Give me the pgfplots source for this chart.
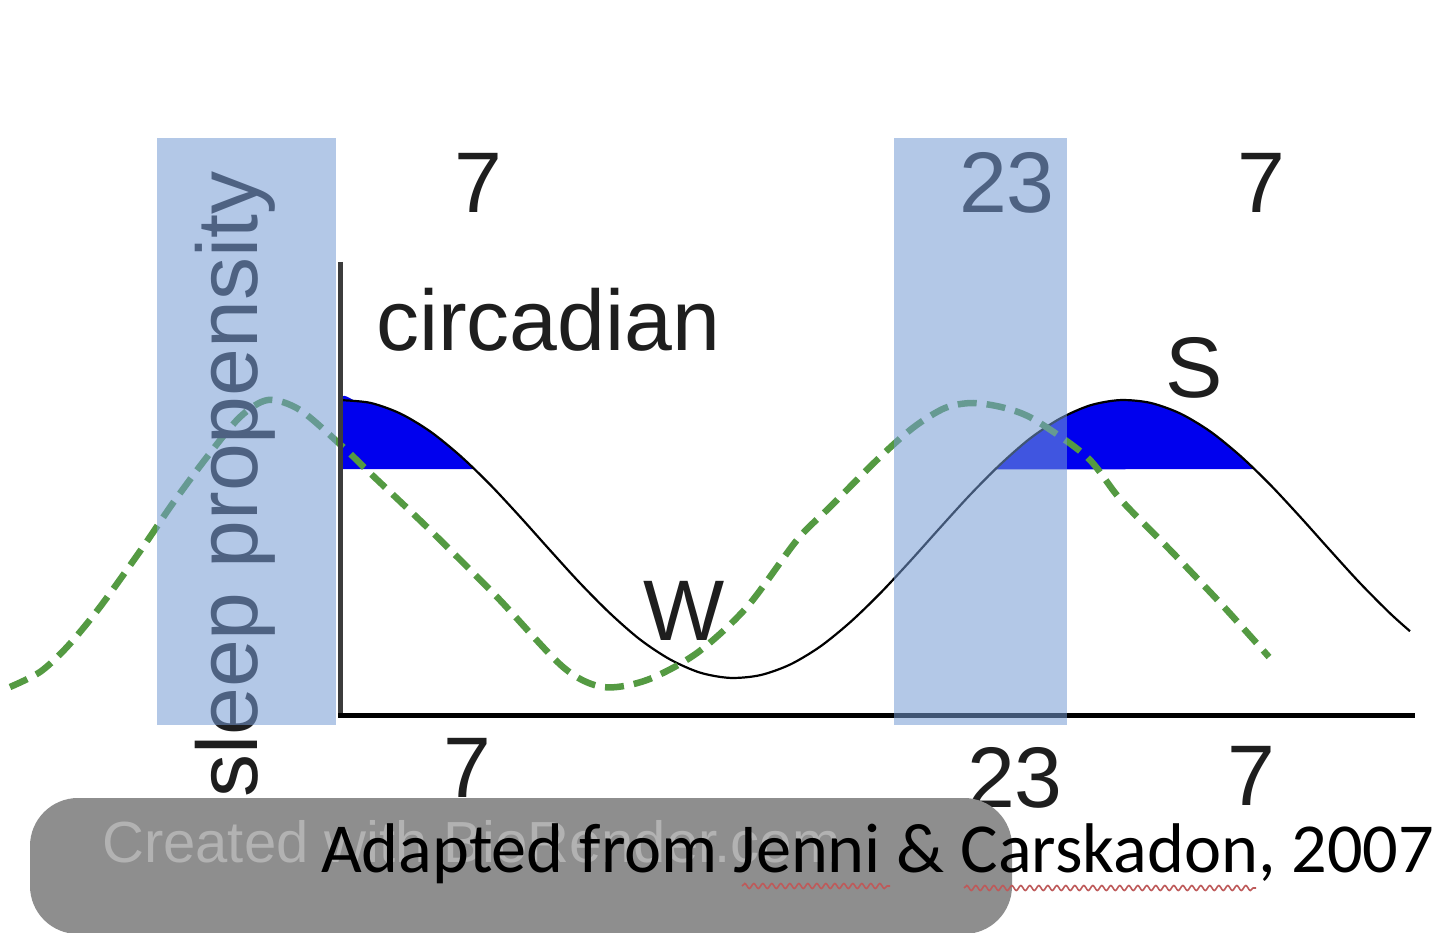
\documentclass[border=0pt]{standalone}
\usepackage{fontspec}
\setmainfont{Liberation Sans}
\newfontfamily\carlito{Carlito}
\usepackage{pgfplots}
\pgfplotsset{compat=1.18}
\usetikzlibrary{decorations.pathmorphing}
\definecolor{rectblue}{RGB}{118,155,213}
\definecolor{fillblue}{RGB}{0,0,238}
\definecolor{dgreen}{RGB}{84,154,66}
\definecolor{barGray}{RGB}{142,142,142}
\definecolor{faint}{RGB}{178,178,178}
\definecolor{txt}{RGB}{30,30,30}
\definecolor{squig}{RGB}{190,90,90}
\newcommand\lab{\fontsize{86bp}{90bp}\selectfont}
\begin{document}
\begin{tikzpicture}
\begin{axis}[
  scale only axis, width=1440bp, height=933bp,
  xmin=0, xmax=1440, ymin=0, ymax=933, y dir=reverse,
  hide axis, clip=true,
]
% background
\addplot[draw=none, fill=white] coordinates {(0,0)(1440,0)(1440,933)(0,933)} -- cycle;
% blue areas (S above threshold)
\addplot[draw=none, fill=fillblue, smooth] coordinates {
 (340,469)(340,400.1)(355,400.4)(370,402.8)(385,407.2)(400,413.4)(415,421.5)(430,431.3)(445,442.7)(460,455.6)(467,461.8)(474,469)} -- cycle;
\addplot[draw=none, fill=fillblue, smooth] coordinates {
 (995,469.5)(1010,456.1)(1030,438.5)(1045,427.6)(1060,418.6)(1075,411.0)(1090,405.4)(1105,401.8)(1120,400.1)(1135,400.4)(1150,402.8)(1165,407.2)(1180,413.4)(1195,421.5)(1210,431.3)(1225,442.7)(1240,455.6)(1254,469)} -- cycle;
% sleep pressure curve
\addplot[black, line width=2.2bp, smooth] coordinates {
 (340,400.1)(370,402.8)(400,413.4)(430,431.3)(460,455.6)(490,484.5)(520,516.7)(550,550.2)(580,583.1)(610,613.3)(640,639.5)(670,659.4)(700,672.6)(730,677.9)(760,675.2)(790,664.6)(820,646.7)(850,622.4)(880,593.5)(910,561.3)(940,527.8)(970,494.9)(1000,464.7)(1030,438.5)(1060,418.6)(1090,405.4)(1120,400.1)(1150,402.8)(1180,413.4)(1210,431.3)(1240,455.6)(1270,484.5)(1300,516.7)(1330,550.2)(1360,583.1)(1390,613.3)(1410,631.2)};
% circadian curve
\addplot[dgreen, line width=6.5bp, dash pattern=on 19bp off 10bp, smooth] coordinates {
 (10,687)(40,672)(67,647)(100,607)(143,547)(173,503)(207,457)(240,417)(268,400)(300,410)(343,447)(370,473)(430,530)(497,597)(563,667)(603,687)(647,680)(697,653)(747,607)(797,540)(830,507)(880,457)(914,427)(945,408)(973,403)(1005,408)(1035,420)(1087,457)(1121,500)(1173,553)(1224,607)(1269,657)};
% axes
\addplot[color={rgb,255:red,60;green,60;blue,60}, line width=5bp] coordinates {(340,262)(340,715)};
\addplot[black, line width=5bp] coordinates {(338,715)(1415,715)};
% labels under the shaded bands
\node[anchor=base west, rotate=90, inner sep=0, text=txt] at (axis cs:257,798) {\lab sleep propensity};
\node[anchor=base, inner sep=0, text=txt] at (axis cs:478,213) {\lab 7};
\node[anchor=base, inner sep=0, text=txt] at (axis cs:1007,213) {\lab 23};
\node[anchor=base, inner sep=0, text=txt] at (axis cs:1261,213) {\lab 7};
\node[anchor=base west, inner sep=0, text=txt] at (axis cs:376,350) {\lab circadian};
\node[anchor=base, inner sep=0, text=txt] at (axis cs:1194,397) {\lab S};
\node[anchor=base, inner sep=0, text=txt] at (axis cs:684,640) {\lab W};
\node[anchor=base, inner sep=0, text=txt] at (axis cs:467,797) {\lab 7};
\node[anchor=base, inner sep=0, text=txt] at (axis cs:1015,807) {\lab 23};
\node[anchor=base, inner sep=0, text=txt] at (axis cs:1251,805) {\lab 7};
% shaded night bands
\addplot[draw=none, fill=rectblue, fill opacity=0.55] coordinates {(157,138)(336,138)(336,725)(157,725)} -- cycle;
\addplot[draw=none, fill=rectblue, fill opacity=0.55] coordinates {(894,138)(1067,138)(1067,725)(894,725)} -- cycle;
% caption bar
\addplot[draw=none, fill=barGray, rounded corners=48bp] coordinates {(30,798)(1012,798)(1012,934)(30,934)} -- cycle;
\node[anchor=base west, inner sep=0, text=faint] at (axis cs:102,862) {\fontsize{58bp}{60bp}\selectfont Created with BioRender.com};
\node[anchor=base west, inner sep=0, text=black] at (axis cs:321,872) {\carlito\fontsize{70.3bp}{72bp}\selectfont Adapted from Jenni \& Carskadon, 2007};
% spell-check underlines
\addplot[squig, line width=1.6bp, decorate, decoration={snake, amplitude=2.5bp, segment length=9bp}] coordinates {(742,886)(890,886)};
\addplot[squig, line width=1.6bp, decorate, decoration={snake, amplitude=2.5bp, segment length=9bp}] coordinates {(964,888)(1256,888)};
\end{axis}
\end{tikzpicture}
\end{document}
